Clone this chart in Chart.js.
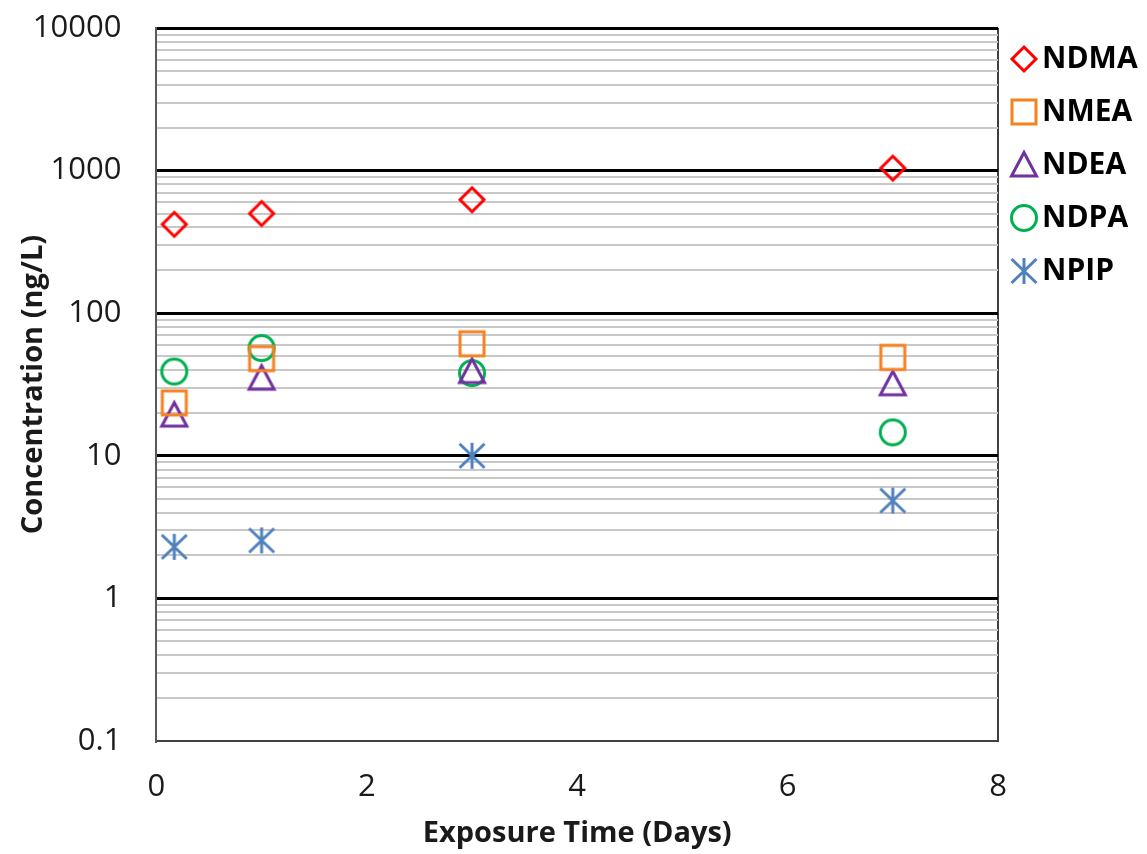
<!DOCTYPE html>
<html lang="en">
<head>
  <meta charset="UTF-8" />
  <title>Nitrosamine Concentration vs Exposure Time</title>
  <style>
    body { margin: 0; background: #fff; }
    #wrap { width: 1147px; height: 854px; }
  </style>
  <script src="https://cdn.jsdelivr.net/npm/chart.js"></script>
</head>
<body>
  <div id="wrap"><canvas id="concChart" width="1147" height="854"></canvas></div>

  <script>
    // exposure time (days)
    const days = [0.17, 1, 3, 7];

    // concentrations (ng/L)
    const ndma = [420, 500, 625, 1040];
    const nmea = [23.5, 48, 61, 49];
    const ndea = [19.3, 35, 39, 32];
    const ndpa = [39, 57, 38, 14.6];
    const npip = [2.3, 2.55, 10, 4.85];

    const yDecades = [0.1, 1, 10, 100, 1000, 10000];
    const xTicks = [0, 2, 4, 6, 8];

    // outlined marker glyphs, drawn once and handed to Chart.js as pointStyle
    function makeMarker(shape, color) {
      const c = document.createElement('canvas');
      c.width = c.height = 36;
      const g = c.getContext('2d');
      const m = 18;
      g.strokeStyle = color;
      g.lineWidth = 3;
      g.beginPath();
      if (shape === 'diamond') {
        g.moveTo(m, m - 12); g.lineTo(m + 12, m); g.lineTo(m, m + 12); g.lineTo(m - 12, m); g.closePath();
      } else if (shape === 'square') {
        g.rect(m - 12, m - 12, 24, 24);
      } else if (shape === 'triangle') {
        g.moveTo(m, m - 12.5); g.lineTo(m + 12.5, m + 11); g.lineTo(m - 12.5, m + 11); g.closePath();
      } else if (shape === 'circle') {
        g.arc(m, m, 12.5, 0, Math.PI * 2);
      } else {
        g.moveTo(m, m - 13); g.lineTo(m, m + 13);
        g.moveTo(m - 12.5, m - 12); g.lineTo(m + 12.5, m + 12);
        g.moveTo(m + 12.5, m - 12); g.lineTo(m - 12.5, m + 12);
      }
      g.stroke();
      return c;
    }

    function pts(vals) {
      return days.map((d, i) => ({ x: d, y: vals[i] }));
    }

    function isDecade(v) {
      const l = Math.log10(v);
      return Math.abs(l - Math.round(l)) < 1e-9;
    }

    const series = [
      { label: 'NDMA', data: ndma, shape: 'diamond', color: '#ff0000' },
      { label: 'NMEA', data: nmea, shape: 'square', color: '#f58220' },
      { label: 'NDEA', data: ndea, shape: 'triangle', color: '#7030a0' },
      { label: 'NDPA', data: ndpa, shape: 'circle', color: '#00b050' },
      { label: 'NPIP', data: npip, shape: 'asterisk', color: '#4f81bd' }
    ];

    const datasets = series.map(s => {
      const img = makeMarker(s.shape, s.color);
      return {
        label: s.label,
        data: pts(s.data),
        pointStyle: img,
        borderColor: s.color,
        backgroundColor: 'transparent',
        showLine: false
      };
    });

    // legend sits a little above the plot top
    const legendNudge = {
      id: 'legendNudge',
      afterLayout(chart) { chart.legend.top -= 7; }
    };

    const font = 'Open Sans';

    new Chart(document.getElementById('concChart'), {
      type: 'scatter',
      data: { datasets },
      plugins: [legendNudge],
      options: {
        responsive: false,
        animation: false,
        layout: { padding: { top: 28, left: 0, right: 0, bottom: 0 } },
        plugins: {
          tooltip: { enabled: false },
          legend: {
            position: 'right',
            align: 'start',
            maxWidth: 149,
            labels: {
              usePointStyle: true,
              boxWidth: 6,
              padding: 23,
              color: '#000',
              font: { family: font, size: 30, weight: 'bold' }
            }
          }
        },
        scales: {
          x: {
            type: 'linear',
            min: 0,
            max: 8,
            afterBuildTicks: axis => { axis.ticks = xTicks.map(v => ({ value: v })); },
            ticks: {
              color: '#1a1a1a',
              padding: 28,
              font: { family: font, size: 31 }
            },
            grid: {
              drawTicks: false,
              color: ctx => (ctx.tick && ctx.tick.value === 8 ? '#404040' : 'transparent'),
              lineWidth: 2
            },
            border: { display: true, color: '#404040', width: 2 },
            title: {
              display: true,
              text: 'Exposure Time (Days)',
              color: '#1a1a1a',
              padding: { top: -18, bottom: 3 },
              font: { family: font, size: 29, weight: 'bold' }
            }
          },
          y: {
            type: 'logarithmic',
            min: 0.1,
            max: 10000,
            afterBuildTicks: axis => {
              const t = [];
              yDecades.forEach((d, i) => {
                t.push({ value: d, major: true });
                if (i < yDecades.length - 1) {
                  for (let k = 2; k <= 9; k++) t.push({ value: +(d * k).toPrecision(6), major: false });
                }
              });
              axis.ticks = t;
            },
            // top label overhang only needs half a line, not the tick padding too
            afterFit: axis => { axis.paddingTop = 0; },
            ticks: {
              autoSkip: false,
              color: '#1a1a1a',
              padding: 35,
              font: { family: font, size: 31 },
              callback: v => (isDecade(v) ? String(+v.toPrecision(6)) : '')
            },
            grid: {
              drawTicks: false,
              color: ctx => {
                const v = ctx.tick ? ctx.tick.value : 0;
                if (v === 0.1) return 'transparent';
                return isDecade(v) ? '#000' : '#c8c8c8';
              },
              lineWidth: ctx => (ctx.tick && isDecade(ctx.tick.value) ? 3 : 2)
            },
            border: { display: true, color: '#595959', width: 2 },
            title: {
              display: true,
              text: 'Concentration (ng/L)',
              color: '#1a1a1a',
              padding: { top: 16, bottom: -53 },
              font: { family: font, size: 29, weight: 'bold' }
            }
          }
        }
      }
    });
  </script>
</body>
</html>
